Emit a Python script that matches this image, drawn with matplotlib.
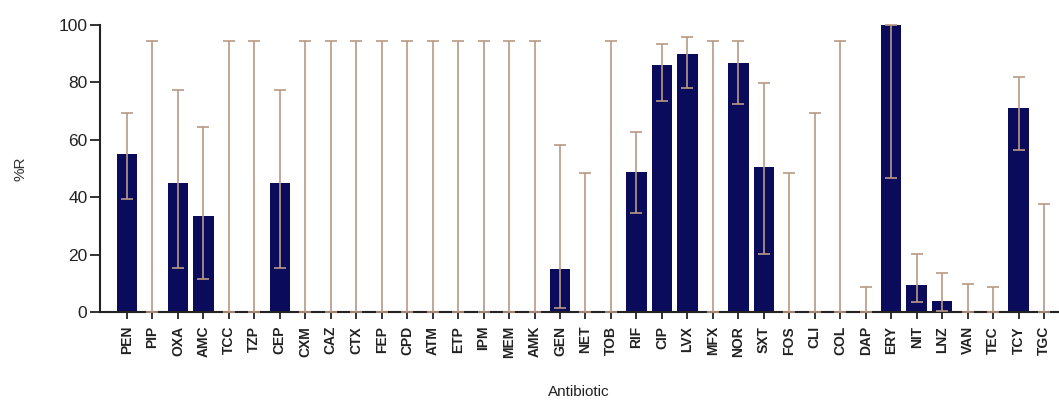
import matplotlib
matplotlib.use("Agg")
import matplotlib.pyplot as plt
import numpy as np

antibiotics = ["PEN", "PIP", "OXA", "AMC", "TCC", "TZP", "CEP", "CXM", "CAZ", "CTX",
               "FEP", "CPD", "ATM", "ETP", "IPM", "MEM", "AMK", "GEN", "NET", "TOB",
               "RIF", "CIP", "LVX", "MFX", "NOR", "SXT", "FOS", "CLI", "COL", "DAP",
               "ERY", "NIT", "LNZ", "VAN", "TEC", "TCY", "TGC"]
pct_r = [55, 0, 45, 33.3, 0, 0, 45, 0, 0, 0,
         0, 0, 0, 0, 0, 0, 0, 15, 0, 0,
         48.7, 86.1, 89.9, 0, 86.9, 50.6, 0, 0, 0, 0,
         100, 9.4, 3.8, 0, 0, 71, 0]
ci_low = [39.3, 0, 15.2, 11.6, 0, 0, 15.2, 0, 0, 0,
          0, 0, 0, 0, 0, 0, 0, 1.4, 0, 0,
          34.4, 73.6, 77.9, 0, 72.5, 20.2, 0, 0, 0, 0,
          46.6, 3.4, 0.5, 0, 0, 56.4, 0]
ci_high = [69.4, 94.5, 77.3, 64.5, 94.5, 94.5, 77.3, 94.5, 94.5, 94.5,
           94.5, 94.5, 94.5, 94.5, 94.5, 94.5, 94.5, 58.2, 48.3, 94.5,
           62.6, 93.4, 95.8, 94.5, 94.5, 79.9, 48.4, 69.4, 94.5, 8.6,
           100, 20.2, 13.5, 9.8, 8.6, 81.8, 37.6]

plt.rcParams['font.family'] = ['Liberation Sans', 'DejaVu Sans']

fig = plt.figure(figsize=(10.59, 4.03), dpi=100)
ax = fig.add_axes([100/1059, 1-312/403, 958/1059, (312-25)/403])

x = np.arange(len(antibiotics))
vals = np.array(pct_r)
lo = vals - np.array(ci_low)
hi = np.array(ci_high) - vals

ax.bar(x, vals, width=0.8, color="#0b0b5c", linewidth=0, zorder=2)
ax.errorbar(x, vals, yerr=[lo, hi], fmt="none", ecolor="#b89a84", elinewidth=1.2,
            capsize=4.5, capthick=1.2, zorder=3, clip_on=False)

ax.set_xlim(-1.06, len(antibiotics) - 0.45)
ax.set_ylim(0, 100)
ax.set_yticks([0, 20, 40, 60, 80, 100])
ax.set_xticks(x)
ax.set_xticklabels(antibiotics, rotation=90, fontsize=10, fontweight='bold')
ax.tick_params(axis='y', labelsize=12.5, length=7, width=1.3, pad=2, colors="#222222")
ax.tick_params(axis='x', length=5, width=1.3, pad=5, colors="#222222")
for s in ["top", "right"]:
    ax.spines[s].set_visible(False)
for s in ["left", "bottom"]:
    ax.spines[s].set_linewidth(1.5)
    ax.spines[s].set_color("#222222")

ax.set_ylabel("%R", fontsize=11, labelpad=22, color="#333333")
ax.set_xlabel("Antibiotic", fontsize=11, labelpad=19, color="#222222")

fig.savefig("out.png", dpi=100)
